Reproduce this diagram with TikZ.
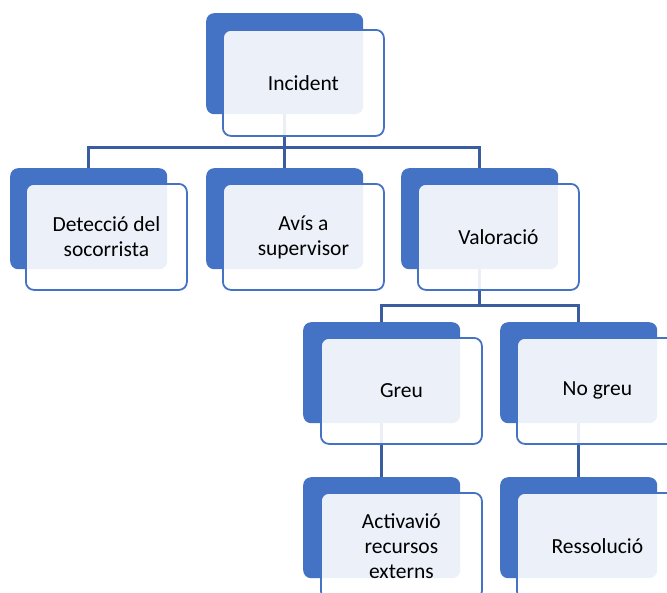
\documentclass[tikz,border=0pt]{standalone}
\usepackage{fontspec}
\setmainfont{Carlito}
\definecolor{accent}{HTML}{4472C4}
\definecolor{connc}{HTML}{3A5DA0}
\pgfdeclarelayer{bg}
\pgfsetlayers{bg,main}
\begin{document}
\begin{tikzpicture}[x=1pt,y=-1pt,
  backbox/.style={fill=accent, draw=none, rounded corners=8pt, minimum width=157pt, minimum height=101pt, anchor=north west, inner sep=0pt},
  frontbox/.style={fill=white, fill opacity=0.9, text opacity=1, draw=accent, line width=1.8pt, rounded corners=8pt, minimum width=161pt, minimum height=106pt, anchor=north west, align=center, inner sep=0pt, font=\fontsize{21.5}{25}\selectfont},
  conn/.style={draw=connc, line width=3pt}]
\useasboundingbox (0,0) rectangle (667,592);
\clip (0,0) rectangle (667,592);
% back boxes
\node[backbox] (incb) at (206,13) {};
\node[backbox] (detb) at (10,168) {};
\node[backbox] (avib) at (206,168) {};
\node[backbox] (valb) at (401,168) {};
\node[backbox] (greb) at (303,322) {};
\node[backbox] (nogb) at (500,322) {};
\node[backbox] (actb) at (303,477) {};
\node[backbox] (resb) at (500,477) {};
% bus coordinates
\coordinate (bus1) at (0,147);
\coordinate (bus2) at (0,305);
% connectors
\begin{pgfonlayer}{bg}
\draw[conn] (detb.north) |- (bus1 -| incb.south) -| (valb.north);
\draw[conn] (avib.north) -- (avib.north |- bus1);
\draw[conn] (incb.south) -- (incb.south |- bus1);
\draw[conn] (greb.north) |- (bus2 -| valb.south) -| (nogb.north);
\draw[conn] (valb.south) -- (valb.south |- bus2);
\draw[conn] (greb.south) -- (actb.north);
\draw[conn] (nogb.south) -- (resb.north);
\end{pgfonlayer}
% front boxes
\node[frontbox] (inc) at (222,29) {Incident};
\node[frontbox] (det) at (25,183) {Detecció del\\socorrista};
\node[frontbox] (avi) at (222,183) {Avís a\\supervisor};
\node[frontbox] (val) at (417,183) {Valoració};
\node[frontbox] (gre) at (320,337) {Greu};
\node[frontbox] (nog) at (516,337) {No greu};
\node[frontbox] (act) at (320,492) {Activavió\\recursos\\externs};
\node[frontbox] (res) at (516,492) {Ressolució};
\end{tikzpicture}
\end{document}
